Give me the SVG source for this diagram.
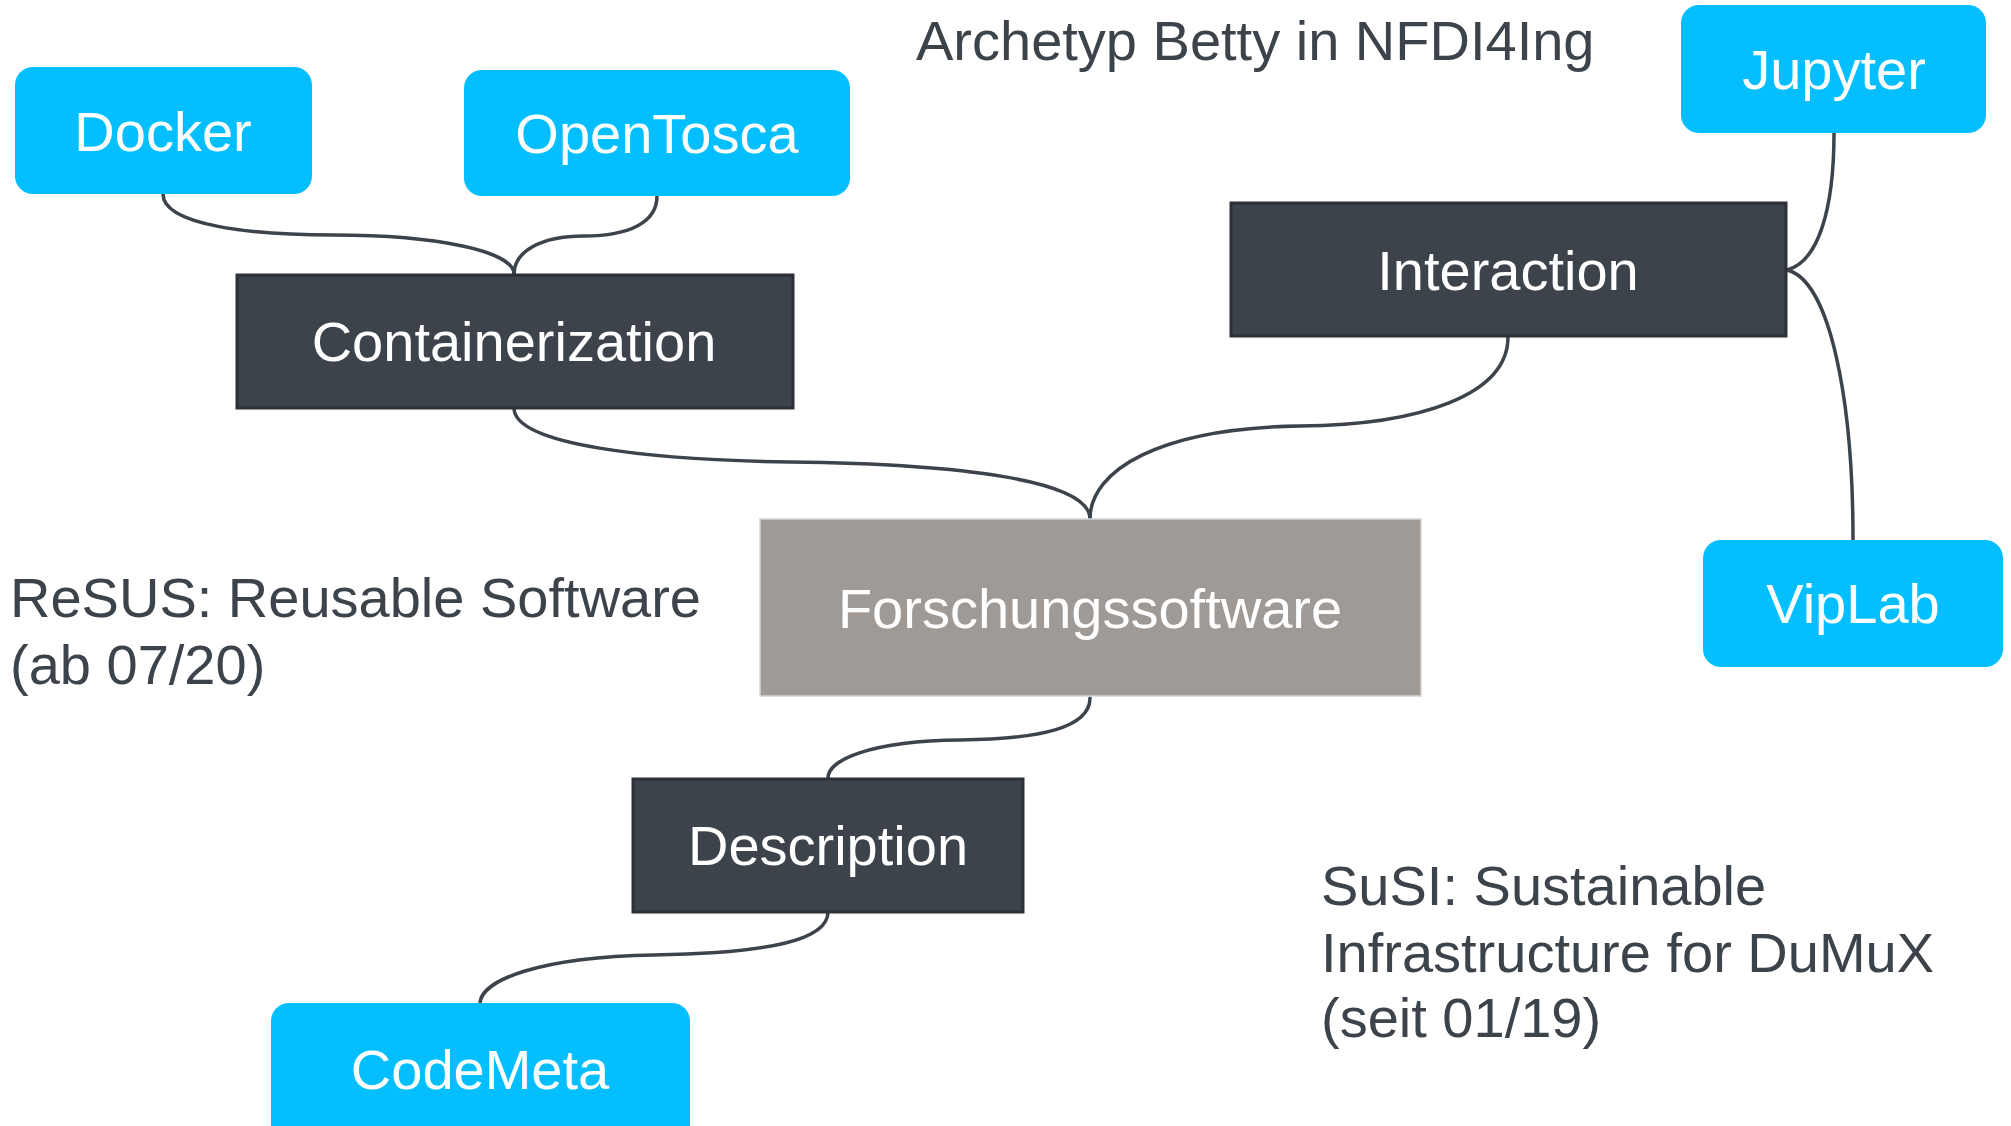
<svg xmlns="http://www.w3.org/2000/svg" width="2011" height="1126" viewBox="0 0 2011 1126">
<style>
.leaf{fill:#03bfff;}
.topic{fill:#3d434b;stroke:#2c3037;stroke-width:3;}
.root{fill:#a09a97;stroke:#d6d4d3;stroke-width:1.5;}
.lbl{font-family:"Liberation Sans",Arial,sans-serif;font-size:56px;fill:#ffffff;text-anchor:middle;}
.note{font-family:"Liberation Sans",Arial,sans-serif;font-size:56px;fill:#3d434b;}
.conn{fill:none;stroke:#3d434b;stroke-width:3.5;stroke-linecap:round;}
</style>
<rect width="2011" height="1126" fill="#ffffff"/>
<g id="connectors">
<path class="conn" d="M163 194 C163 225 250 235 333 235 C440 235 514 252 514 274"/>
<path class="conn" d="M657 196 C657 222 630 236 584 236 C540 236 514 252 514 274"/>
<path class="conn" d="M514 408 C514 445 650 460 790 462 C960 464 1090 480 1090 519"/>
<path class="conn" d="M1508 337 C1508 395 1420 425 1300 426 C1160 428 1090 470 1090 519"/>
<path class="conn" d="M1787 270 C1818 262 1834 210 1834 133"/>
<path class="conn" d="M1787 270 C1830 280 1853 400 1853 539"/>
<path class="conn" d="M1090 698 C1090 728 1040 739 960 740 C870 741 828 760 828 778"/>
<path class="conn" d="M828 912 C828 940 770 953 654 955 C540 957 480 980 480 1004"/>
</g>
<g id="title"><text class="note" x="916" y="60">Archetyp Betty in NFDI4Ing</text></g>
<g id="resus"><text class="note" x="10" y="617">ReSUS: Reusable Software</text><text class="note" x="10" y="684">(ab 07/20)</text></g>
<g id="susi"><text class="note" x="1321" y="905">SuSI: Sustainable</text><text class="note" x="1321" y="972">Infrastructure for DuMuX</text><text class="note" x="1321" y="1037">(seit 01/19)</text></g>
<g id="docker"><rect class="leaf" x="15" y="67" width="297" height="127" rx="18"/><text class="lbl" x="163" y="151">Docker</text></g>
<g id="opentosca"><rect class="leaf" x="464" y="70" width="386" height="126" rx="18"/><text class="lbl" x="657" y="153">OpenTosca</text></g>
<g id="containerization"><rect class="topic" x="237" y="275" width="556" height="133"/><text class="lbl" x="514" y="361">Containerization</text></g>
<g id="interaction"><rect class="topic" x="1231" y="203" width="555" height="133"/><text class="lbl" x="1508" y="290">Interaction</text></g>
<g id="jupyter"><rect class="leaf" x="1681" y="5" width="305" height="128" rx="18"/><text class="lbl" x="1834" y="89">Jupyter</text></g>
<g id="viplab"><rect class="leaf" x="1703" y="540" width="300" height="127" rx="18"/><text class="lbl" x="1853" y="623">VipLab</text></g>
<g id="forschungssoftware"><rect class="root" x="760" y="519" width="661" height="177"/><text class="lbl" x="1090" y="628">Forschungssoftware</text></g>
<g id="description"><rect class="topic" x="633" y="779" width="390" height="133"/><text class="lbl" x="828" y="865">Description</text></g>
<g id="codemeta"><rect class="leaf" x="271" y="1003" width="419" height="140" rx="18"/><text class="lbl" x="480" y="1089">CodeMeta</text></g>
</svg>
